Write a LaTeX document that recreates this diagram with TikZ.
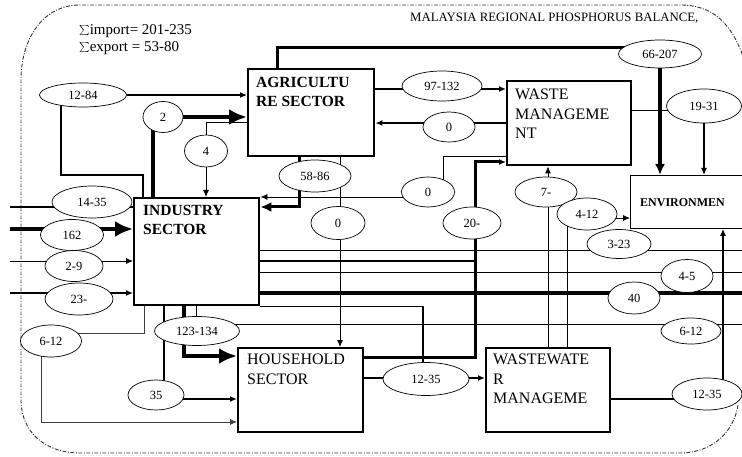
\documentclass[tikz,border=0pt]{standalone}
\usepackage{fontspec}
\setmainfont{Liberation Serif}
\usetikzlibrary{shapes.geometric,arrows.meta}
\pgfdeclarelayer{bg}
\pgfsetlayers{bg,main}
\begin{document}
\begin{tikzpicture}[x=1pt,y=-1pt,
  ell/.style={ellipse, draw, line width=0.7pt, fill=white, inner sep=0pt, font=\fontsize{12.5}{12.5}\selectfont},
  box/.style={draw, line width=2.4pt, fill=white, anchor=north west, inner sep=0pt},
  lblB/.style={anchor=north west, align=left, inner sep=0pt, font=\bfseries\fontsize{15.5}{19}\selectfont},
  lblR/.style={anchor=north west, align=left, inner sep=0pt, font=\fontsize{16}{19.5}\selectfont},
  wa/.style={line width=0.8pt},
  wb/.style={line width=1.2pt},
  wc/.style={line width=1.8pt},
  wd/.style={line width=3pt},
  we/.style={line width=4.5pt},
  tip/.style={-{Latex[length=7pt,width=6pt]}},
  medtip/.style={-{Latex[length=11pt,width=10pt]}},
  bigtip/.style={-{Latex[length=18pt,width=16pt]}},
  frame/.style={line width=0.9pt, black!80, dash pattern=on 4pt off 1.5pt on 1pt off 1.5pt}
]
\useasboundingbox (0,0) rectangle (742,457);

% outer frame
\draw[frame] (745,62) .. controls (732,22) and (712,5) .. (680,5) -- (80,5)
  .. controls (42,5) and (21,40) .. (21,80) -- (21,400)
  .. controls (21,432) and (45,453) .. (80,453) -- (680,453)
  .. controls (712,453) and (734,432) .. (738,405);

% titles
\node[anchor=base west, inner sep=0pt, font=\fontsize{12.8}{13}\selectfont] (title) at (410,22) {MALAYSIA REGIONAL PHOSPHORUS BALANCE,};
\node[anchor=north west, align=left, inner sep=0pt, font=\fontsize{15}{17}\selectfont] (sums) at (79,24) {$\sum$import= 201-235\\$\sum$export = 53-80};

% boxes
\node[box, minimum width=126pt, minimum height=87pt] (agri) at (247,68) {};
\node[box, minimum width=124pt, minimum height=84pt] (waste) at (506,80) {};
\node[box, line width=0.9pt, minimum width=130pt, minimum height=53pt] (env) at (630,175) {};
\node[box, minimum width=125pt, minimum height=107pt] (ind) at (133,197) {};
\node[box, minimum width=125pt, minimum height=84pt] (house) at (237,347) {};
\node[box, minimum width=124pt, minimum height=84pt] (ww) at (485,347) {};

\node[lblB] (agriL) at ([shift={(9,9)}]agri.north west) {AGRICULTU\\RE SECTOR};
\node[lblR] (wasteL) at ([shift={(9,9)}]waste.north west) {WASTE\\MANAGEME\\NT};
\node[anchor=base west, inner sep=0pt, font=\bfseries\fontsize{12}{12}\selectfont] (envL) at (640,207) {ENVIRONMEN};
\node[lblB] (indL) at ([shift={(10,8)}]ind.north west) {INDUSTRY\\SECTOR};
\node[lblR] (houseL) at ([shift={(10,7)}]house.north west) {HOUSEHOLD\\SECTOR};
\node[lblR] (wwL) at ([shift={(8,7)}]ww.north west) {WASTEWATE\\R\\MANAGEME};

% ellipses
\node[ell, minimum width=87pt, minimum height=24pt] (e1284) at (83,95) {12-84};
\node[ell, minimum width=40pt, minimum height=31pt] (e2) at (163,117) {2};
\node[ell, minimum width=43pt, minimum height=32pt] (e4) at (206,151) {4};
\node[ell, minimum width=80pt, minimum height=30pt] (e97) at (442,86) {97-132};
\node[ell, minimum width=52pt, minimum height=30pt] (e0a) at (449,127) {0};
\node[ell, minimum width=72pt, minimum height=32pt] (e5886) at (315,176) {58-86};
\node[ell, minimum width=53pt, minimum height=30pt] (e0b) at (428,192) {0};
\node[ell, minimum width=54pt, minimum height=33pt] (e0c) at (338,223) {0};
\node[ell, minimum width=58pt, minimum height=32pt] (e20) at (472,223) {20-};
\node[ell, minimum width=83pt, minimum height=28pt] (e66) at (660,54) {66-207};
\node[ell, minimum width=75pt, minimum height=34pt] (e1931) at (704,106) {19-31};
\node[ell, minimum width=62pt, minimum height=30pt] (e7) at (546,192) {7-};
\node[ell, minimum width=60pt, minimum height=32pt] (e412) at (587,214) {4-12};
\node[ell, minimum width=64pt, minimum height=29pt] (e323) at (619,244) {3-23};
\node[ell, minimum width=52pt, minimum height=33pt] (e45) at (687,276) {4-5};
\node[ell, minimum width=52pt, minimum height=32pt] (e40) at (634,298) {40};
\node[ell, minimum width=60pt, minimum height=26pt] (e612r) at (691,331) {6-12};
\node[ell, minimum width=70pt, minimum height=32pt] (e1235r) at (707,394) {12-35};
\node[ell, minimum width=86pt, minimum height=33pt] (e1235m) at (426,379) {12-35};
\node[ell, minimum width=85pt, minimum height=29pt] (e123) at (197,331) {123-134};
\node[ell, minimum width=61pt, minimum height=32pt] (e612l) at (51,341) {6-12};
\node[ell, minimum width=56pt, minimum height=30pt] (e35) at (156,395) {35};
\node[ell, minimum width=80pt, minimum height=32pt] (e1435) at (92,202) {14-35};
\node[ell, minimum width=63pt, minimum height=31pt] (e162) at (72,235) {162};
\node[ell, minimum width=58pt, minimum height=31pt] (e29) at (74,266) {2-9};
\node[ell, minimum width=68pt, minimum height=32pt] (e23) at (79,299) {23-};

\coordinate (L) at (10,0);
\coordinate (R) at (750,0);

\begin{pgfonlayer}{bg}
% to agriculture
\draw[wb, tip] (e1284.east) -- (e1284.east -| agri.west);
\draw[wb] (61,0 |- e1284) -- (61,175) -| (143,0 |- ind.north);
\draw[we, bigtip] (153,0 |- ind.north) |- (agri.west |- e2);
\draw[wa, tip] (agri.west |- 0,122) -| (e4 |- ind.north);
% agriculture outputs
\draw[wd] (277,0 |- agri.north) |- (e66.center |- 0,48);
\draw[we, medtip] (e66) -- (e66 |- env.north);
\draw[wc, tip] (agri.east |- 0,89) -- (waste.west |- 0,89);
\draw[wc, tip] (waste.west |- 0,123) -- (agri.east |- 0,123);
\draw[wa] (waste.east |- 0,110) -- (e1931.center |- 0,110);
\draw[wb, tip] (e1931) -- (e1931 |- env.north);
\draw[wd, medtip] (299,0 |- agri.south) |- (ind.east |- 0,207);
\draw[wa, tip] (340,0 |- agri.south) -- (340,0 |- house.north);
\draw[wa, tip] (waste.west |- 0,156) -| (443,197) -- (ind.east |- 0,197);
\draw[wd, tip] (house.east |- 0,357) -| (475,162) -- (waste.west |- 0,162);
\draw[wa, tip] (548,0 |- ww.north) -- (548,0 |- waste.south);
\draw[wa, tip] (567,0 |- ww.north) |- (env.west |- 0,218);
% industry outputs to the right
\draw[wa] (ind.east |- 0,250) -- (R |- 0,250);
\draw[wc] (ind.east |- 0,261) -- (475,261);
\draw[wa] (ind.east |- 0,272) -- (R |- 0,272);
\draw[we] (ind.east |- 0,293) -- (R |- 0,293);
\draw[wb] (ind.south east) -| (423,0 |- e1235m.north);
% industry outputs below
\draw[wa, black!75, tip] (144,0 |- ind.south) |- (41,333) |- (house.west |- 0,422);
\draw[wc, tip] (164,0 |- ind.south) |- (house.west |- 0,399);
\draw[we, bigtip] (184,0 |- ind.south) |- (house.west |- 0,356);
\draw[wa] (196,0 |- ind.south) |- (R |- 0,324);
% household and wastewater
\draw[wc, tip] (house.east |- 0,378) -- (ww.west |- 0,378);
\draw[wc] (ww.east |- 0,399) -- (e1235r.center |- 0,399);
\draw[wb, tip] (723,0 |- e1235r) -- (723,0 |- env.south);
% inputs from the left
\draw[wc] (L |- 0,207) -- (ind.west |- 0,207);
\draw[we, bigtip] (L |- 0,229) -- (ind.west |- 0,229);
\draw[wa, tip] (L |- 0,261) -- (ind.west |- 0,261);
\draw[wc, tip] (L |- 0,293) -- (ind.west |- 0,293);
\end{pgfonlayer}
\end{tikzpicture}
\end{document}
